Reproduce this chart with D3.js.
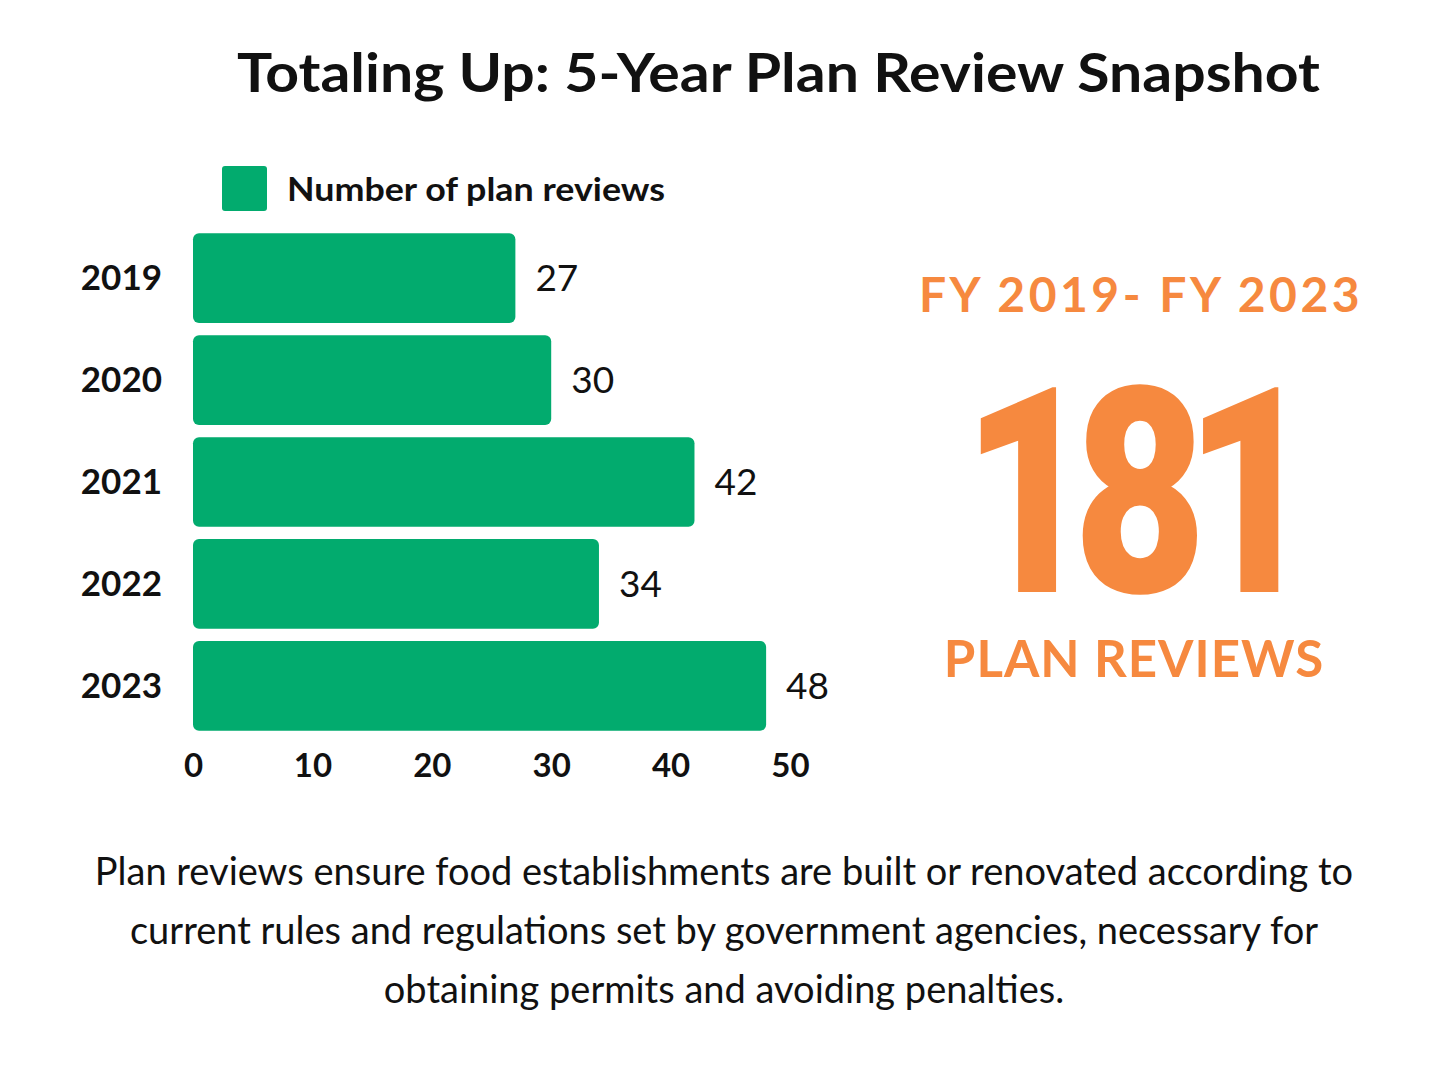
<!DOCTYPE html>
<html>
<head>
<meta charset="utf-8">
<script src="https://cdn.jsdelivr.net/npm/d3@7"></script>
<style>
  body { margin: 0; background: #fff; }
  svg { display: block; font-family: Lato, "Open Sans", sans-serif; }
</style>
</head>
<body>
<svg id="chart" width="1448" height="1086"></svg>
<script>
const years = ["2019", "2020", "2021", "2022", "2023"];
const reviews = [27, 30, 42, 34, 48];
const xTicks = [0, 10, 20, 30, 40, 50];
const totalLabel = "181";
const noteLines = [
    "Plan reviews ensure food establishments are built or renovated according to",
    "current rules and regulations set by government agencies, necessary for",
    "obtaining permits and avoiding penalties."
];

const green = "#02ab6e";
const orange = "#f6893f";

const svg = d3.select("#chart");

svg.append("text")
    .attr("x", 237).attr("y", 92)
    .attr("font-size", 54).attr("font-weight", 700)
    .attr("textLength", 1083).attr("lengthAdjust", "spacingAndGlyphs")
    .attr("fill", "#111")
    .text("Totaling Up: 5-Year Plan Review Snapshot");

// legend
svg.append("rect")
    .attr("x", 222).attr("y", 166).attr("width", 45).attr("height", 45)
    .attr("rx", 3).attr("fill", green);
svg.append("text")
    .attr("x", 287).attr("y", 201)
    .attr("font-size", 33).attr("font-weight", 700).attr("fill", "#111")
    .attr("textLength", 378).attr("lengthAdjust", "spacingAndGlyphs")
    .text("Number of plan reviews");

const x = d3.scaleLinear().domain([0, 50]).range([193, 790]);
const y = d3.scaleBand().domain(years).range([221, 743])
    .paddingInner(0.12).paddingOuter(0.12);

const rows = years.map((yr, i) => ({ yr, v: reviews[i] }));

svg.selectAll(".bar")
    .data(rows)
    .enter().append("rect")
    .attr("class", "bar")
    .attr("x", x(0))
    .attr("y", d => y(d.yr))
    .attr("width", d => x(d.v) - x(0))
    .attr("height", y.bandwidth())
    .attr("rx", 6)
    .attr("fill", green);

svg.selectAll(".val")
    .data(rows)
    .enter().append("text")
    .attr("class", "val")
    .attr("x", d => x(d.v) + 20)
    .attr("y", d => y(d.yr) + y.bandwidth() / 2 + 13)
    .attr("font-size", 37).attr("font-weight", 400).attr("fill", "#111")
    .text(d => d.v);

svg.selectAll(".yr")
    .data(rows)
    .enter().append("text")
    .attr("class", "yr")
    .attr("x", 162)
    .attr("y", d => y(d.yr) + y.bandwidth() / 2 + 12)
    .attr("text-anchor", "end")
    .attr("font-size", 35).attr("font-weight", 700).attr("fill", "#111")
    .text(d => d.yr);

const axis = svg.append("g")
    .attr("transform", "translate(0, 745)")
    .call(d3.axisBottom(x).tickValues(xTicks).tickSize(0).tickPadding(0));
axis.select(".domain").remove();
axis.selectAll("text")
    .attr("dy", 0).attr("y", 32)
    .attr("font-family", "Lato, sans-serif")
    .attr("font-size", 33).attr("font-weight", 700).attr("fill", "#111");

// right panel
svg.append("text")
    .attr("x", 1141).attr("y", 312)
    .attr("text-anchor", "middle")
    .attr("font-size", 48).attr("font-weight", 700)
    .attr("letter-spacing", 3.5).attr("fill", orange)
    .text("FY 2019- FY 2023");

// big total, squeezed a little and tightened
svg.append("text")
    .attr("transform", "translate(962, 592) scale(0.8, 1)")
    .attr("font-family", "Roboto, Lato, sans-serif")
    .attr("font-size", 288).attr("font-weight", 900)
    .attr("letter-spacing", -28)
    .attr("fill", orange)
    .text(totalLabel);

svg.append("text")
    .attr("x", 1134).attr("y", 677)
    .attr("text-anchor", "middle")
    .attr("font-size", 51).attr("font-weight", 700)
    .attr("letter-spacing", 1).attr("fill", orange)
    .text("PLAN REVIEWS");

// note
svg.selectAll(".note")
    .data(noteLines)
    .enter().append("text")
    .attr("class", "note")
    .attr("x", 724)
    .attr("y", (d, i) => 885 + i * 59)
    .attr("text-anchor", "middle")
    .attr("font-size", 38).attr("font-weight", 400).attr("fill", "#111")
    .text(d => d);
</script>
</body>
</html>
